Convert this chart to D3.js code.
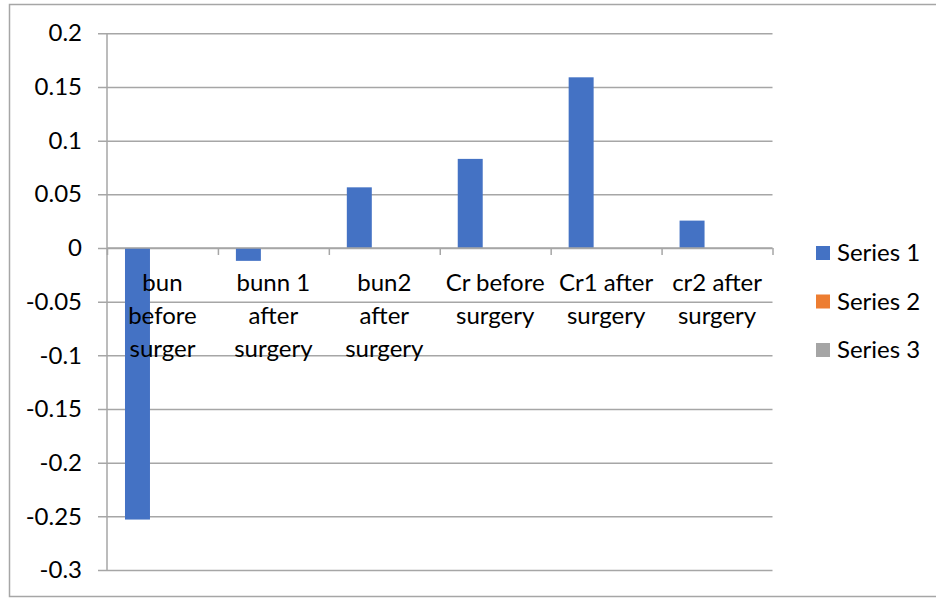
<!DOCTYPE html>
<html>
<head>
<meta charset="utf-8">
<script src="https://cdn.jsdelivr.net/npm/d3@7"></script>
<style>
  html, body { margin: 0; padding: 0; background: #fff; }
  svg { display: block; }
  text { font-family: Lato, "Noto Sans", sans-serif; fill: #000; }
</style>
</head>
<body>
<svg id="chart" width="936" height="599"></svg>
<script>
// Category labels (wrapped as drawn on the axis)
const categories = [
  ["bun", "before", "surger"],
  ["bunn 1", "after", "surgery"],
  ["bun2", "after", "surgery"],
  ["Cr before", "surgery"],
  ["Cr1 after", "surgery"],
  ["cr2 after", "surgery"]
];
const seriesNames = ["Series 1", "Series 2", "Series 3"];
const seriesColors = ["#4472C4", "#ED7D31", "#A5A5A5"];
const series1 = [-0.253, -0.012, 0.0565, 0.083, 0.159, 0.0255];
const series2 = [null, null, null, null, null, null];
const series3 = [null, null, null, null, null, null];
const yTicks = [0.2, 0.15, 0.1, 0.05, 0, -0.05, -0.1, -0.15, -0.2, -0.25, -0.3];
const yTickLabels = ["0.2", "0.15", "0.1", "0.05", "0", "-0.05", "-0.1", "-0.15", "-0.2", "-0.25", "-0.3"];

const svg = d3.select("#chart");
const margin = { left: 107, right: 163.5, top: 33.3, bottom: 29 };
const W = 936, H = 599;
const plotW = W - margin.left - margin.right;
const plotH = H - margin.top - margin.bottom;
const fontSize = 24;

// outer chart frame
svg.append("rect")
  .attr("x", 9.5).attr("y", 4.5)
  .attr("width", W).attr("height", H - 7)
  .attr("fill", "none").attr("stroke", "#a6a6a6").attr("stroke-width", 1.5);

const g = svg.append("g").attr("transform", `translate(${margin.left},${margin.top})`);

const y = d3.scaleLinear().domain([-0.3, 0.2]).range([plotH, 0]);
const x0 = d3.scaleBand().domain(d3.range(categories.length)).range([0, plotW]).paddingInner(0).paddingOuter(0);
const x1 = d3.scaleBand().domain(d3.range(seriesNames.length))
  .range([0, x0.bandwidth()]).paddingInner(0).paddingOuter(0.72);

// horizontal gridlines with left tick stubs
const yAxis = d3.axisLeft(y).tickValues(yTicks).tickSize(-plotW).tickPadding(25)
  .tickFormat((d, i) => yTickLabels[i]);
const ya = g.append("g").call(yAxis);
ya.select(".domain").remove();
ya.selectAll(".tick line")
  .attr("x1", -9).attr("stroke", "#a6a6a6").attr("stroke-width", 1.5);
ya.selectAll(".tick text")
  .attr("font-size", fontSize).style("font-family", "Lato, 'Noto Sans', sans-serif");

// vertical value axis line
g.append("line")
  .attr("x1", 0).attr("x2", 0).attr("y1", 0).attr("y2", plotH)
  .attr("stroke", "#a6a6a6").attr("stroke-width", 1.5);

// bars
const allSeries = [series1, series2, series3];
allSeries.forEach((vals, si) => {
  g.append("g").selectAll("rect")
    .data(vals.map((v, i) => ({ v, i })).filter(d => d.v !== null))
    .join("rect")
    .attr("x", d => x0(d.i) + x1(si))
    .attr("width", x1.bandwidth())
    .attr("y", d => y(Math.max(0, d.v)))
    .attr("height", d => Math.abs(y(d.v) - y(0)))
    .attr("fill", seriesColors[si]);
});

// category axis at zero with tick marks between categories
const xAxis = d3.axisBottom(d3.scaleLinear().domain([0, categories.length]).range([0, plotW]))
  .tickValues(d3.range(categories.length + 1)).tickSize(7).tickFormat("");
const xa = g.append("g").attr("transform", `translate(0,${y(0)})`).call(xAxis);
xa.select(".domain").attr("stroke", "#a6a6a6").attr("stroke-width", 1.5).attr("d", `M0,0H${plotW}`);
xa.selectAll(".tick line").attr("stroke", "#a6a6a6").attr("stroke-width", 1.5);

// category labels
const lab = g.append("g");
categories.forEach((lines, i) => {
  const cx = x0(i) + x0.bandwidth() / 2;
  const t = lab.append("text")
    .attr("x", cx)
    .attr("y", y(0) + 43)
    .attr("text-anchor", "middle")
    .attr("font-size", fontSize);
  lines.forEach((s, k) => {
    t.append("tspan").attr("x", cx).attr("dy", k === 0 ? 0 : 33).text(s);
  });
});

// legend
const leg = svg.append("g").attr("transform", "translate(816,253)");
seriesNames.forEach((name, i) => {
  const row = leg.append("g").attr("transform", `translate(0,${i * 48.5})`);
  row.append("rect").attr("x", 0).attr("y", -7).attr("width", 14).attr("height", 14).attr("fill", seriesColors[i]);
  row.append("text").attr("x", 21).attr("y", 0).attr("dy", "0.35em").attr("font-size", fontSize).text(name);
});
</script>
</body>
</html>
